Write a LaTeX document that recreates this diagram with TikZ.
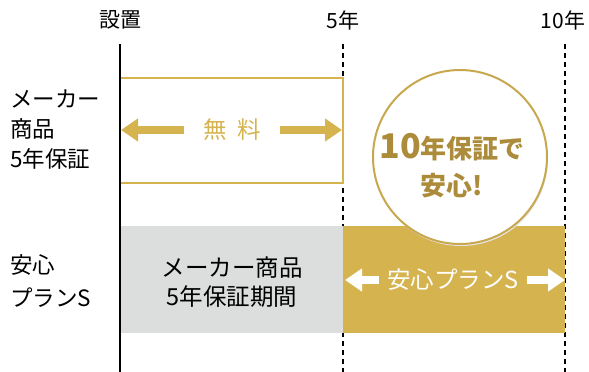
\documentclass[tikz,border=0pt]{standalone}
\usepackage{fontspec}
\newfontfamily\jp{Noto Sans CJK JP}
\usetikzlibrary{arrows.meta}
\definecolor{gold}{HTML}{D5B450}
\definecolor{darkgold}{HTML}{AC8C3A}
\definecolor{ringgold}{HTML}{C8A84E}
\definecolor{bandgray}{HTML}{DCDDDD}

\begin{document}
\begin{tikzpicture}[x=1pt,y=-1pt,
  txt/.style={font={\jp\fontsize{21}{30}\selectfont}, inner sep=0pt},
  bigtxt/.style={font={\jp\fontsize{23.5}{30}\selectfont}, inner sep=0pt},
  yeararrow/.style={line width=8pt, -{Triangle[length=17pt,width=22pt]}},
  yearline/.style={line width=2pt, dash pattern=on 5pt off 4pt}]
\useasboundingbox (0,0) rectangle (589,372);
% time axis
\node[txt] (start) at (120,20) {設置};
\node[txt] (five) at (343,20) {5年};
\node[txt] (ten) at (563,20) {10年};
\coordinate (fivetop) at (343,44);
\coordinate (fivebot) at (343,372);
\coordinate (tentop) at (565,44);
\coordinate (tenbot) at (565,372);
\coordinate (starttop) at (120,44);
\coordinate (startbot) at (120,372);
\draw[yearline] (fivetop) -- (fivebot);
\draw[yearline] (tentop) -- (tenbot);
% row labels
\node[txt, align=left, anchor=west, font={\jp\fontsize{22.5}{30}\selectfont}] (maker) at (10,130) {メーカー\\商品\\5年保証};
\node[txt, align=left, anchor=west, font={\jp\fontsize{22.5}{33}\selectfont}] (plans) at (10,281) {安心\\プランS};
% maker warranty
\draw[gold, line width=2pt] (120,78) rectangle (343,183);
\coordinate (freeL) at (121,130);
\coordinate (freeR) at (342,130);
\node[bigtxt, text=gold, inner xsep=19pt] (free) at (232,130) {無\hspace{0.45em}料};
\draw[yeararrow, gold] (free.west) -- (freeL);
\draw[yeararrow, gold] (free.east) -- (freeR);
% bands
\fill[bandgray] (120,226) rectangle (343,333);
\fill[gold] (343,226) rectangle (565,333);
\node[bigtxt, align=center, font={\jp\fontsize{23.5}{29}\selectfont}] (period) at (232,282) {メーカー商品\\5年保証期間};
\coordinate (planL) at (345,280);
\coordinate (planR) at (565,280);
\node[bigtxt, text=white, inner xsep=8pt] (plan) at (453,280) {安心プランS};
\draw[yeararrow, white] (plan.west) -- (planL);
\draw[yeararrow, white] (plan.east) -- (planR);
\draw[line width=2pt] (starttop) -- (startbot);
% badge
\fill[black!10] (461,159) circle (87);
\node[circle, draw=ringgold, line width=2pt, fill=white, minimum size=174pt] (badge) at (460,157) {};
\node[txt, text=darkgold, align=center, font={\jp\bfseries\fontsize{26}{37}\selectfont}] (badgetext) at (452,166)
  {{\fontsize{34}{37}\selectfont 10}年保証で\\安心!};
\end{tikzpicture}
\end{document}
